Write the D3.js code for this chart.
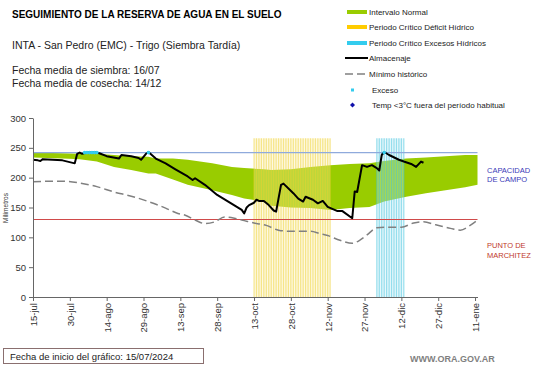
<!DOCTYPE html>
<html lang="es">
<head>
<meta charset="UTF-8">
<title>Seguimiento de la reserva de agua en el suelo</title>
<script src="https://d3js.org/d3.v7.min.js"></script>
<style>
  body { margin: 0; background: #fff; font-family: "Liberation Sans", Arial, sans-serif; }
  svg { display: block; }
  .tick text { fill: #333; font-size: 9.5px; font-family: "Liberation Sans", Arial, sans-serif; }
  .axis path, .axis line { stroke: #666; }
  .leg { font-size: 8px; fill: #222; }
</style>
</head>
<body>
<svg width="541" height="368"></svg>
<script>
// dias desde 15/07/2024
const tickDias = [0, 15, 30, 45, 60, 75, 90, 105, 120, 135, 150, 165, 180];
const tickLabels = ["15-jul", "30-jul", "14-ago", "29-ago", "13-sep", "28-sep", "13-oct",
  "28-oct", "12-nov", "27-nov", "12-dic", "27-dic", "11-ene"];

// Intervalo normal (mm)
const normDias = [0, 12, 19, 26, 33, 40, 47, 50, 57, 63, 73, 81, 86, 94, 97, 105, 113, 121, 129, 137, 143, 152, 160, 168, 176, 181];
const normSup  = [242, 241, 240, 240, 238, 236, 235, 232, 232, 230, 224, 218, 216, 214, 213, 214, 218, 221, 223, 224, 228, 232, 234, 236, 238, 238];
const normInf  = [234, 232, 231, 227, 218, 213, 207, 207, 197, 188, 179, 171, 165, 160, 153, 150, 149, 146, 149, 151, 160, 168, 174, 179, 184, 188];

// Almacenaje (mm)
const almDias = [0, 2, 3, 4, 8, 12, 17, 18, 19, 20, 22, 25, 27, 30, 35, 36, 40, 43, 44, 46, 47, 50, 54, 58, 63, 65, 66, 70, 75, 81, 85, 86, 87, 88, 90, 91, 92, 94, 96, 98, 99, 101, 102, 106, 108, 110, 111, 114, 116, 118, 120, 124, 126, 130, 131, 132, 134, 136, 138, 140, 141, 142, 143, 145, 149, 151, 154, 156, 158, 159];
const almMm   = [230, 229, 228, 231, 230, 229, 224, 240, 242, 240, 242, 243, 241, 236, 232, 238, 236, 233, 230, 240, 243, 232, 224, 214, 202, 196, 199, 188, 171, 156, 146, 140, 150, 154, 158, 163, 161, 161, 154, 145, 143, 188, 190, 174, 165, 160, 168, 163, 157, 161, 151, 144, 144, 132, 177, 176, 221, 218, 221, 216, 212, 238, 243, 238, 230, 227, 223, 218, 227, 225];

// Minimo historico (mm)
const minDias = [0, 7, 12, 19, 26, 33, 40, 47, 54, 59, 62, 66, 70, 74, 78, 82, 86, 90, 95, 100, 105, 109, 113, 117, 120, 125, 130, 133, 136, 140, 145, 150, 155, 159, 164, 170, 174, 178, 181];
const minMm   = [193, 194, 194, 191, 185, 176, 169, 160, 149, 140, 137, 129, 123, 126, 134, 132, 128, 124, 120, 112, 110, 110, 110, 106, 103, 95, 90, 95, 104, 116, 117, 117, 124, 126, 121, 115, 112, 120, 129];

// Excesos
const excesoDias = [21, 22, 23, 24, 25, 26, 47, 143];
const excesoMm = [242, 242, 242, 242, 242, 242, 242, 242];

// Periodos criticos (dias)
const deficitPeriodo = [90, 121];
const excesoPeriodo = [140, 151];
const periodoTope = 266;

const capCampo = 242;
const puntoMarch = 130;
const finDia = 181;

const svg = d3.select("svg");
const x = d3.scaleLinear().domain([0, finDia]).range([33, 477.5]);
const y = d3.scaleLinear().domain([0, 300]).range([297, 118]);

// titulos
svg.append("text").attr("x", 12).attr("y", 18).attr("font-size", 10).attr("font-weight", "bold")
  .text("SEGUIMIENTO DE LA RESERVA DE AGUA  EN EL SUELO");
svg.append("text").attr("x", 12).attr("y", 49).attr("font-size", 10.5).attr("fill", "#222")
  .text("INTA  - San Pedro (EMC) - Trigo (Siembra Tardía)");
svg.append("text").attr("x", 12).attr("y", 74).attr("font-size", 10.5).attr("fill", "#222")
  .text("Fecha media de siembra: 16/07");
svg.append("text").attr("x", 12).attr("y", 87).attr("font-size", 10.5).attr("fill", "#222")
  .text("Fecha media de cosecha: 14/12");

// banda normal
const norm = normDias.map((d, i) => ({ d, s: normSup[i], i: normInf[i] }));
svg.append("path").datum(norm)
  .attr("fill", "#99CC00")
  .attr("d", d3.area().x(p => x(p.d)).y0(p => y(p.i)).y1(p => y(p.s)));

// periodos criticos: columnas diarias
function periodo(rango, fondo, linea) {
  svg.append("rect")
    .attr("x", x(rango[0])).attr("y", y(periodoTope))
    .attr("width", x(rango[1]) - x(rango[0])).attr("height", y(0) - y(periodoTope))
    .attr("fill", fondo).attr("opacity", 0.35);
  svg.append("g").selectAll("rect")
    .data(d3.range(rango[0], rango[1] + 1))
    .join("rect")
    .attr("x", d => x(d) - 0.6).attr("y", y(periodoTope))
    .attr("width", 1.2).attr("height", y(0) - y(periodoTope))
    .attr("fill", linea).attr("opacity", 0.5);
}
periodo(deficitPeriodo, "#FBEFA8", "#EDD230");
periodo(excesoPeriodo, "#BDEBF5", "#3FC3DE");

// capacidad de campo y punto de marchitez
svg.append("line").attr("x1", x(0)).attr("x2", x(finDia))
  .attr("y1", y(capCampo)).attr("y2", y(capCampo))
  .attr("stroke", "#8FAADC").attr("stroke-width", 1.3);
svg.append("line").attr("x1", x(0)).attr("x2", x(finDia))
  .attr("y1", Math.round(y(puntoMarch)) + 0.5).attr("y2", Math.round(y(puntoMarch)) + 0.5)
  .attr("stroke", "#D04A4A").attr("stroke-width", 1.1);

// minimo historico
svg.append("path").datum(minDias.map((d, i) => [d, minMm[i]]))
  .attr("fill", "none").attr("stroke", "#808080").attr("stroke-width", 1.5)
  .attr("stroke-dasharray", "8,4")
  .attr("d", d3.line().x(p => x(p[0])).y(p => y(p[1])).curve(d3.curveMonotoneX));

// almacenaje
svg.append("path").datum(almDias.map((d, i) => [d, almMm[i]]))
  .attr("fill", "none").attr("stroke", "#000").attr("stroke-width", 2)
  .attr("stroke-linejoin", "round")
  .attr("d", d3.line().x(p => x(p[0])).y(p => y(p[1])));

// excesos
svg.append("g").selectAll("circle")
  .data(excesoDias.map((d, i) => [d, excesoMm[i]]))
  .join("circle")
  .attr("cx", p => x(p[0])).attr("cy", p => y(p[1])).attr("r", 1.8)
  .attr("fill", "#33CCEE");

// ejes
svg.append("g").attr("class", "axis").attr("transform", `translate(0,${y(0)})`)
  .call(d3.axisBottom(x).tickValues(tickDias).tickFormat((d, i) => tickLabels[i]).tickSize(4).tickSizeOuter(0))
  .selectAll("text")
  .attr("transform", "rotate(-90)")
  .attr("text-anchor", "end")
  .attr("x", -6).attr("y", 0).attr("dy", "0.35em");
svg.append("g").attr("class", "axis").attr("transform", `translate(${x(0)},0)`)
  .call(d3.axisLeft(y).tickValues([0, 50, 100, 150, 200, 250, 300]).tickSize(4).tickSizeOuter(0))
  .selectAll("text").attr("x", -7);

svg.append("text").attr("transform", "translate(8,208) rotate(-90)")
  .attr("text-anchor", "middle").attr("font-size", 6.5).attr("fill", "#333").text("Milímetros");

// etiquetas a la derecha
svg.append("text").attr("x", 487).attr("y", 173).attr("font-size", 7.5).attr("fill", "#3A3AB8").text("CAPACIDAD");
svg.append("text").attr("x", 487).attr("y", 182).attr("font-size", 7.5).attr("fill", "#3A3AB8").text("DE  CAMPO");
svg.append("text").attr("x", 487).attr("y", 248).attr("font-size", 7.5).attr("fill", "#C0392B").text("PUNTO  DE");
svg.append("text").attr("x", 487).attr("y", 258).attr("font-size", 7.5).attr("fill", "#C0392B").text("MARCHITEZ");

// leyenda
const leg = svg.append("g");
const legItems = [
  { t: "Intervalo Normal", tipo: "band", c: "#99CC00", y: 12 },
  { t: "Periodo Crítico Déficit Hídrico", tipo: "band", c: "#FFCC00", y: 27 },
  { t: "Periodo Crítico Excesos Hídricos", tipo: "band", c: "#33CCEE", y: 43 },
  { t: "Almacenaje", tipo: "line", c: "#000", y: 58 },
  { t: "Mínimo histórico", tipo: "dash", c: "#808080", y: 74 },
  { t: "Exceso", tipo: "dot", c: "#33CCEE", y: 90 },
  { t: "Temp <3°C fuera del período habitual", tipo: "diamond", c: "#1010AA", y: 105 }
];
legItems.forEach(it => {
  if (it.tipo === "band") {
    leg.append("rect").attr("x", 347).attr("y", it.y - 2).attr("width", 20).attr("height", 4).attr("fill", it.c);
    leg.append("text").attr("class", "leg").attr("x", 369).attr("y", it.y + 3).text(it.t);
  } else if (it.tipo === "line") {
    leg.append("line").attr("x1", 345).attr("x2", 368).attr("y1", it.y).attr("y2", it.y).attr("stroke", it.c).attr("stroke-width", 2);
    leg.append("text").attr("class", "leg").attr("x", 369).attr("y", it.y + 3).text(it.t);
  } else if (it.tipo === "dash") {
    leg.append("line").attr("x1", 345).attr("x2", 368).attr("y1", it.y).attr("y2", it.y).attr("stroke", it.c).attr("stroke-width", 1.5).attr("stroke-dasharray", "8,4");
    leg.append("text").attr("class", "leg").attr("x", 369).attr("y", it.y + 3).text(it.t);
  } else if (it.tipo === "dot") {
    leg.append("rect").attr("x", 351).attr("y", it.y - 1.5).attr("width", 3).attr("height", 3).attr("fill", it.c);
    leg.append("text").attr("class", "leg").attr("x", 372).attr("y", it.y + 3).text(it.t);
  } else {
    leg.append("rect").attr("x", -1.8).attr("y", -1.8).attr("width", 3.6).attr("height", 3.6)
      .attr("transform", `translate(352.5,${it.y}) rotate(45)`).attr("fill", it.c);
    leg.append("text").attr("class", "leg").attr("x", 372).attr("y", it.y + 3).text(it.t);
  }
});

// pie
svg.append("rect").attr("x", 3.5).attr("y", 348.5).attr("width", 200).attr("height", 15)
  .attr("fill", "#fff").attr("stroke", "#8A6F6F");
svg.append("text").attr("x", 10).attr("y", 359.5).attr("font-size", 9.5).attr("fill", "#222")
  .text("Fecha de inicio del gráfico:   15/07/2024");
svg.append("text").attr("x", 410).attr("y", 362).attr("font-size", 9).attr("font-weight", "bold").attr("fill", "#7F7F7F")
  .text("WWW.ORA.GOV.AR");
</script>
</body>
</html>
